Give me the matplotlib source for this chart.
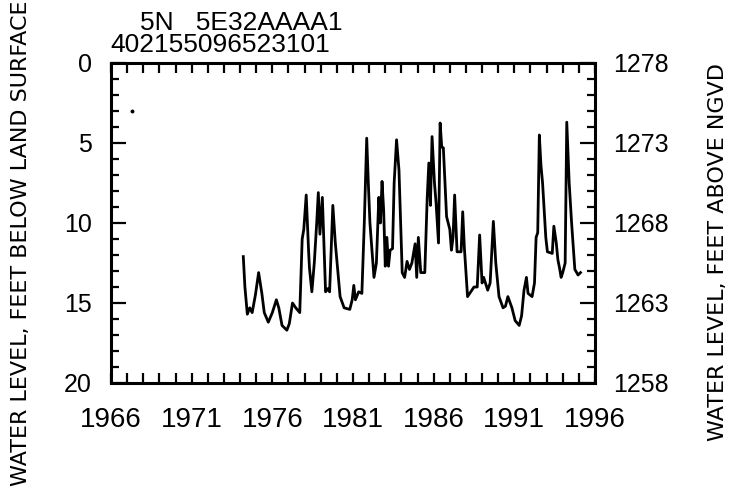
"""Hydrograph, well 402155096523101 (5N 5E32AAAA1)."""
import matplotlib
matplotlib.use("Agg")
import matplotlib.pyplot as plt
from matplotlib.ticker import MultipleLocator

plt.rcParams["font.family"] = ["Liberation Sans", "DejaVu Sans"]

# depth to water, feet below land surface
years = [1974.2, 1974.3, 1974.45, 1974.6, 1974.75, 1974.95, 1975.15, 1975.35,
         1975.5, 1975.75, 1976.0, 1976.25, 1976.4, 1976.6, 1976.9, 1977.05,
         1977.25, 1977.45, 1977.7, 1977.85, 1977.95, 1978.1, 1978.25, 1978.3,
         1978.45, 1978.6, 1978.75, 1978.85, 1978.95, 1979.1, 1979.3, 1979.45,
         1979.55, 1979.75, 1979.9, 1980.2, 1980.45, 1980.8, 1980.95, 1981.05,
         1981.15, 1981.35, 1981.55, 1981.7, 1981.85, 1981.95, 1982.05, 1982.3,
         1982.45, 1982.6, 1982.7, 1982.8, 1982.9, 1983.0, 1983.1, 1983.2,
         1983.3, 1983.45, 1983.55, 1983.7, 1983.85, 1984.05, 1984.2, 1984.35,
         1984.5, 1984.65, 1984.85, 1984.95, 1985.05, 1985.2, 1985.45, 1985.6,
         1985.7, 1985.8, 1985.9, 1986.05, 1986.15, 1986.3, 1986.4, 1986.5,
         1986.6, 1986.7, 1986.8, 1987.0, 1987.1, 1987.2, 1987.3, 1987.45,
         1987.7, 1987.8, 1987.9, 1988.1, 1988.3, 1988.5, 1988.7, 1988.85,
         1989.0, 1989.1, 1989.35, 1989.5, 1989.7, 1989.85, 1990.05, 1990.3,
         1990.45, 1990.6, 1990.85, 1991.05, 1991.3, 1991.45, 1991.6, 1991.75,
         1991.85, 1992.1, 1992.25, 1992.35, 1992.45, 1992.55, 1992.65, 1992.75,
         1992.95, 1993.05, 1993.35, 1993.45, 1993.6, 1993.7, 1993.8, 1993.9,
         1994.0, 1994.15, 1994.25, 1994.4, 1994.55, 1994.75, 1994.95, 1995.1]
depth = [12.1, 14.0, 15.7, 15.3, 15.6, 14.5, 13.1, 14.4,
         15.6, 16.2, 15.6, 14.8, 15.3, 16.4, 16.7, 16.3,
         15.0, 15.3, 15.6, 11.0, 10.4, 8.25, 11.8, 12.8,
         14.3, 12.5, 10.0, 8.1, 10.7, 8.4, 14.3, 14.1,
         14.3, 8.9, 11.2, 14.6, 15.3, 15.4, 14.8, 13.9,
         14.8, 14.3, 14.4, 10.0, 4.7, 7.5, 10.0, 13.4,
         12.5, 8.4, 10.0, 7.4, 9.2, 12.7, 10.9, 12.7,
         11.7, 11.6, 7.5, 4.8, 6.7, 13.1, 13.4, 12.4,
         12.9, 12.5, 11.3, 13.4, 10.9, 13.1, 13.1, 8.4,
         6.25, 8.9, 4.6, 7.5, 8.75, 11.25, 3.75, 5.25,
         5.3, 7.5, 9.6, 10.4, 11.7, 10.9, 8.25, 11.8,
         11.8, 9.3, 11.5, 14.6, 14.3, 14.0, 14.0, 10.75,
         13.75, 13.4, 14.2, 13.75, 9.9, 12.5, 14.6, 15.3,
         15.2, 14.6, 15.3, 16.1, 16.4, 15.8, 14.2, 13.4,
         14.4, 14.6, 13.75, 10.9, 10.6, 4.5, 6.4, 7.5,
         10.9, 11.8, 11.9, 10.2, 11.25, 12.3, 12.8, 13.4,
         13.1, 12.5, 3.7, 7.5, 10.0, 12.9, 13.25, 13.1]

# lone early reading
early_years = [1967.3]
early_depth = [3.0]

LAND_SURFACE = 1278  # ft above NGVD
year_ticks = [1966, 1971, 1976, 1981, 1986, 1991, 1996]
depth_ticks = [0, 5, 10, 15, 20]
elev_ticks = [1258, 1263, 1268, 1273, 1278]

fig = plt.figure(figsize=(7.35, 4.87), dpi=100)
ax = fig.add_axes([111 / 735, 1 - 383 / 487, (595 - 111) / 735, (383 - 63) / 487])

ax.plot(years, depth, color="black", lw=2)
ax.plot(early_years, early_depth, "o", color="black", ms=1.8)

ax.set_xlim(1966, 1996)
ax.set_ylim(20, 0)
ax.set_xticks(year_ticks)
ax.xaxis.set_minor_locator(MultipleLocator(1))
ax.set_yticks(depth_ticks)
ax.yaxis.set_minor_locator(MultipleLocator(1))
ax.tick_params(axis="x", which="both", direction="in", top=True, length=7,
               width=1.6, labelsize=20, pad=17)
ax.tick_params(axis="y", which="major", direction="in", length=11, width=1.6,
               labelsize=18, pad=14)
ax.tick_params(axis="y", which="minor", direction="in", length=6, width=1.6)
for s in ax.spines.values():
    s.set_linewidth(2.2)

ax2 = ax.twinx()
ax2.set_ylim(LAND_SURFACE - 20, LAND_SURFACE)
ax2.set_yticks(elev_ticks)
ax2.yaxis.set_minor_locator(MultipleLocator(1))
ax2.tick_params(axis="y", which="major", direction="in", length=11, width=1.6,
                labelsize=18, pad=13)
ax2.tick_params(axis="y", which="minor", direction="in", length=6, width=1.6)

fig.text(21 / 735, 1 - 243 / 487, "WATER LEVEL, FEET BELOW LAND SURFACE",
         rotation=90, fontsize=16, ha="center", va="center",
         family=["DejaVu Sans"])
fig.text(718 / 735, 1 - 252 / 487, "WATER LEVEL, FEET ABOVE NGVD",
         rotation=90, fontsize=16, ha="center", va="center",
         family=["DejaVu Sans"])

fig.text(140 / 735, 1 - 23 / 487, "5N   5E32AAAA1", fontsize=19, va="center")
fig.text(110 / 735, 1 - 45 / 487, "402155096523101", fontsize=19, va="center")

fig.savefig("out.png", dpi=100)
